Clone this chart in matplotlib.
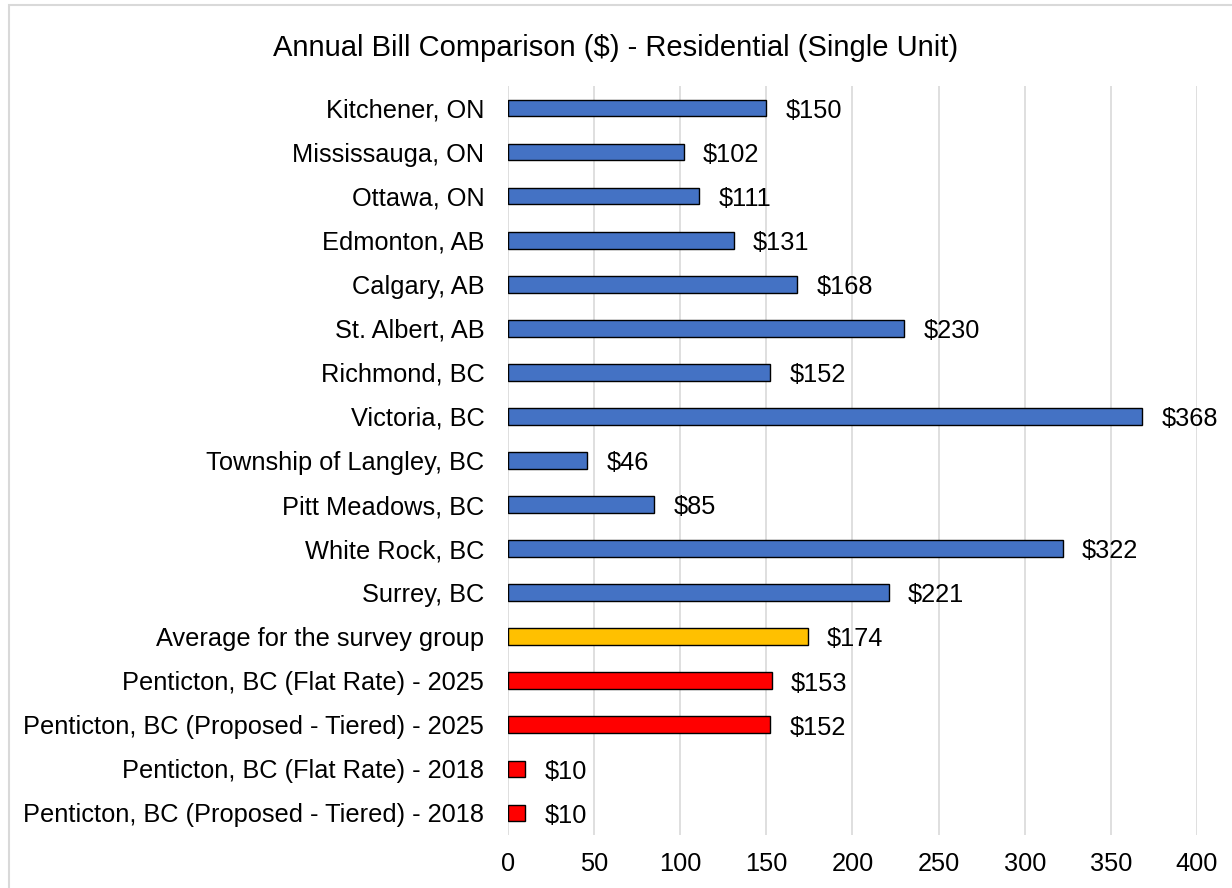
import matplotlib.pyplot as plt
from matplotlib.patches import Rectangle

plt.rcParams['font.family'] = ['Liberation Sans', 'DejaVu Sans']

# data, top to bottom as in the chart
cities = ['Kitchener, ON', 'Mississauga, ON', 'Ottawa, ON', 'Edmonton, AB',
          'Calgary, AB', 'St. Albert, AB', 'Richmond, BC', 'Victoria, BC',
          'Township of Langley, BC', 'Pitt Meadows, BC', 'White Rock, BC',
          'Surrey, BC', 'Average for the survey group',
          'Penticton, BC (Flat Rate) - 2025',
          'Penticton, BC (Proposed - Tiered) - 2025',
          'Penticton, BC (Flat Rate) - 2018',
          'Penticton, BC (Proposed - Tiered) - 2018']
bills = [150, 102, 111, 131, 168, 230, 152, 368, 46, 85, 322, 221, 174,
         153, 152, 10, 10]
groups = ['city'] * 12 + ['avg'] + ['penticton'] * 4
group_colors = {'city': '#4472C4', 'avg': '#FFC000', 'penticton': '#FF0000'}
xticks = [0, 50, 100, 150, 200, 250, 300, 350, 400]

fig = plt.figure(figsize=(12.32, 8.88), dpi=100)
ax = fig.add_axes([0.4123, 0.0597, 0.5593, 0.8435])

ypos = list(range(len(cities)))
colors = [group_colors[g] for g in groups]
ax.barh(ypos, bills, height=0.38, color=colors, edgecolor='black',
        linewidth=1.0, zorder=3)

for y, v in zip(ypos, bills):
    ax.annotate('$%d' % v, (v, y), xytext=(14, -2), textcoords='offset points',
                ha='left', va='center', fontsize=18.3, color='black')

ax.set_ylim(len(cities) - 0.5, -0.5)
ax.set_xlim(0, 400)
ax.set_xticks(xticks)
ax.set_yticks(ypos)
ax.set_yticklabels(cities)
ax.tick_params(axis='both', length=0, labelsize=18.3)
ax.tick_params(axis='y', pad=17)
ax.tick_params(axis='x', pad=12)
ax.xaxis.grid(True, color='#D9D9D9', linewidth=1.2, zorder=0)
ax.set_axisbelow(True)
for s in ax.spines.values():
    s.set_visible(False)

fig.text(0.5, 1 - 56 / 888, 'Annual Bill Comparison ($) - Residential (Single Unit)',
         ha='center', va='baseline', fontsize=21)

# light frame around the chart area
fig.patches.append(Rectangle((8.5 / 1232, -0.1), 1.2, 1.1 - 5.5 / 888,
                             transform=fig.transFigure, fill=False,
                             edgecolor='#D9D9D9', linewidth=1.5))

fig.savefig('out.png', dpi=100)
